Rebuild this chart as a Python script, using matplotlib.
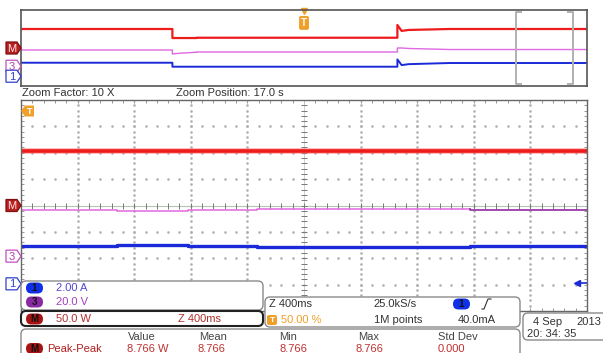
import numpy as np
import matplotlib.pyplot as plt
from matplotlib.patches import FancyBboxPatch, Polygon
from matplotlib.transforms import blended_transform_factory

plt.rcParams['font.family'] = ['Liberation Sans', 'DejaVu Sans']

# overview record: time (s, trigger at 0) and level (divisions)
ovw_t    = [-20, -9.3, -9.3, -8.8, -7.6, -7.6, 6.6, 6.6, 6.9, 7.4, 10.3, 20]
ovw_red  = [2.0, 2.0, 1.05, 1.05, 1.05, 1.08, 1.08, 2.42, 1.8, 1.9, 2.0, 2.0]
ovw_pink = [-0.21, -0.21, -0.63, -0.55, -0.45, -0.42, -0.42, 0.0, 0.0, -0.05, -0.16, -0.16]
ovw_blue = [-1.55, -1.55, -1.97, -1.97, -1.97, -1.97, -1.97, -1.2, -1.8, -1.7, -1.58, -1.58]

# zoomed window 15..19 s (400 ms/div)
zoom_t    = [15.0, 15.68, 15.68, 16.18, 16.18, 16.67, 16.67, 18.17, 18.17, 19.0]
zoom_red  = [2.07, 2.07, 2.07, 2.07, 2.07, 2.07, 2.07, 2.07, 2.07, 2.07]
zoom_pink = [-0.17, -0.17, -0.21, -0.21, -0.17, -0.17, -0.13, -0.13, -0.16, -0.16]
zoom_blue = [-1.54, -1.54, -1.50, -1.50, -1.54, -1.54, -1.58, -1.58, -1.54, -1.54]

zoom_start, zoom_end = 15.0, 19.0
math_gnd, ch3_gnd, ch1_gnd = 0.0, -1.92, -2.97
trig_level = -2.95

meas_headers = ['Value', 'Mean', 'Min', 'Max', 'Std Dev']
meas_values = ['8.766 W', '8.766', '8.766', '8.766', '0.000']

RED = '#ee1b1b'
PINK = '#e068e0'
PURPLE = '#9a3aa8'
BLUE = '#1a2ad8'
ORANGE = '#f0a028'
DKRED = '#a81414'

W, H = 603, 353
fig = plt.figure(figsize=(W / 100, H / 100), dpi=100)

# ---- overview panel
ax_top = fig.add_axes([21 / W, (H - 86) / H, 566 / W, 76 / H])
ax_top.set_xlim(-20, 20)
ax_top.set_ylim(-4, 4)
ax_top.set_xticks([])
ax_top.set_yticks([])
for s in ax_top.spines.values():
    s.set_color('#555555')
    s.set_linewidth(1.2)
ax_top.plot(ovw_t, ovw_red, color=RED, lw=1.6)
ax_top.plot(ovw_t, ovw_pink, color=PINK, lw=1.0)
ax_top.plot(ovw_t, ovw_blue, color=BLUE, lw=1.4)
# zoom window brackets
for xe, d in [(zoom_start, 0.35), (zoom_end, -0.35)]:
    ax_top.plot([xe + d, xe, xe, xe + d], [3.75, 3.75, -3.75, -3.75], color='#b0b0b0', lw=1.4)

# ---- zoomed panel
ax = fig.add_axes([21 / W, (H - 311) / H, 566 / W, 211 / H])
ax.set_xlim(zoom_start, zoom_end)
ax.set_ylim(-4, 4)
div = (zoom_end - zoom_start) / 10
ax.set_xticks(np.arange(zoom_start, zoom_end + 1e-9, div / 5))
ax.set_yticks(np.arange(-4, 4.001, 0.2))
ax.tick_params(direction='in', length=2.5, width=0.6, color='#888888',
               top=True, right=True, labelbottom=False, labelleft=False)
for s in ax.spines.values():
    s.set_color('#666666')
    s.set_linewidth(1.0)

xmaj = zoom_start + div * np.arange(1, 10)
ymaj = np.arange(-3, 4)
yminor = np.arange(-4, 4.001, 0.2)
xminor = np.arange(zoom_start, zoom_end + 1e-9, div / 5)
for xv in xmaj:
    if abs(xv - (zoom_start + 5 * div)) > 1e-6:
        ax.plot(np.full_like(yminor, xv), yminor, ls='none', marker='s', ms=0.8, color='#b0b0b0')
for yv in ymaj:
    if yv != 0:
        ax.plot(xminor, np.full_like(xminor, yv), ls='none', marker='s', ms=0.8, color='#b0b0b0')
xc = zoom_start + 5 * div
ax.axhline(0, color='#b4c4b4', lw=0.8)
ax.axvline(xc, color='#c8c8c8', lw=0.6)
ax.plot(xminor, np.zeros_like(xminor), ls='none', marker='|', ms=4, mew=0.7, color='#777777')
ax.plot(np.full_like(yminor, xc), yminor, ls='none', marker='_', ms=4, mew=0.7, color='#777777')

ax.plot(zoom_t, zoom_red, color='#ff7070', lw=4.0, alpha=0.6)
ax.plot(zoom_t, zoom_red, color=RED, lw=2.6)
ax.plot(zoom_t[:8], zoom_pink[:8], color=PINK, lw=1.1)
ax.plot(zoom_t[7:], zoom_pink[7:], color=PURPLE, lw=1.3)
ax.plot(zoom_t, zoom_blue, color=BLUE, lw=2.4)

# trigger level marker at right
tr = blended_transform_factory(ax.transAxes, ax.transData)
ax.plot([0.982, 1.0], [trig_level, trig_level], color=BLUE, lw=1.2, transform=tr, clip_on=False)
ax.plot([0.982], [trig_level], marker='<', ms=5, color=BLUE, transform=tr, clip_on=False)

# trigger position marker in overview
tt = blended_transform_factory(ax_top.transData, ax_top.transAxes)
ax_top.plot([0], [0.99], marker='v', ms=5, color=ORANGE, transform=tt, clip_on=False)
ax_top.text(0, 0.83, 'T', transform=tt, ha='center', va='center', fontsize=7, color='white',
            fontweight='bold', bbox=dict(boxstyle='round,pad=0.2', fc=ORANGE, ec='none'))

# ---- overlay (pixel coordinates)
ov = fig.add_axes([0, 0, 1, 1])
ov.set_xlim(0, W)
ov.set_ylim(H, 0)
ov.axis('off')


def tag(axis, level, label, fc, ec, tc):
    # ground-level tag at left edge, placed at the channel's level
    yp = H - axis.transData.transform((0, level))[1]
    ov.add_patch(Polygon([(6, yp - 6), (17, yp - 6), (21, yp), (17, yp + 6), (6, yp + 6)],
                         closed=True, fc=fc, ec=ec, lw=0.9))
    ov.text(12, yp + 0.5, label, fontsize=8, color=tc, ha='center', va='center')


for axis in (ax_top, ax):
    tag(axis, math_gnd, 'M', '#b82020', '#801010', '#ffe8e8')
    tag(axis, ch3_gnd, '3', '#ffffff', '#c050c0', '#b040b0')
    tag(axis, ch1_gnd, '1', '#ffffff', '#3040d0', '#3040d0')

ov.text(22, 93, 'Zoom Factor: 10 X', fontsize=8, color='#333333', va='center')
ov.text(176, 93, 'Zoom Position: 17.0 s', fontsize=8, color='#333333', va='center')

# trigger marker left in zoomed view
ov.add_patch(Polygon([(21, 111), (25, 105.5), (34, 105.5), (34, 116.5), (25, 116.5)],
                     closed=True, fc=ORANGE, ec='none'))
ov.text(29.5, 111, 'T', fontsize=6.5, color='white', fontweight='bold', ha='center', va='center')


def box(x0, y0, x1, y1, ec='#8a8a8a', lw=1.0, r=5):
    ov.add_patch(FancyBboxPatch((x0, y0), x1 - x0, y1 - y0,
                                boxstyle='round,pad=0,rounding_size=%g' % r,
                                fc='white', ec=ec, lw=lw, clip_on=False))


def badge(x, y, label, fc):
    ov.add_patch(FancyBboxPatch((x, y - 5.5), 17, 11, boxstyle='round,pad=0,rounding_size=5.5',
                                fc=fc, ec='none'))
    ov.text(x + 8.5, y, label, fontsize=7, color='#111111', ha='center', va='center', fontweight='bold')


box(21, 281, 263, 310)
box(21, 311, 263, 326, ec='#222222', lw=1.5)
box(265, 297, 520, 327)
box(523, 313, 612, 340)
box(21, 329, 520, 370)

badge(26, 288, '1', '#1030e8')
ov.text(56, 288, '2.00 A', fontsize=8, color='#5048d0', va='center')
badge(26, 302, '3', '#8a2aa2')
ov.text(56, 302, '20.0 V', fontsize=8, color='#a040c0', va='center')
badge(26, 319, 'M', DKRED)
ov.text(56, 319, '50.0 W', fontsize=8, color='#b03030', va='center')
ov.text(178, 319, 'Z 400ms', fontsize=8, color='#b03030', va='center')

ov.text(269, 304, 'Z 400ms', fontsize=8, color='#333333', va='center')
ov.text(373, 304, '25.0kS/s', fontsize=8, color='#333333', va='center')
badge(453, 304, '1', '#1030e8')
ov.plot([482, 484, 488, 491], [309, 309, 299, 299], color='#333333', lw=0.8)
ov.add_patch(FancyBboxPatch((267, 315), 10, 10, boxstyle='round,pad=0,rounding_size=2',
                            fc=ORANGE, ec='none'))
ov.text(272, 320, 'T', fontsize=6, color='white', fontweight='bold', ha='center', va='center')
ov.text(281, 320, '50.00 %', fontsize=8, color=ORANGE, va='center')
ov.text(374, 320, '1M points', fontsize=8, color='#333333', va='center')
ov.text(458, 320, '40.0mA', fontsize=8, color='#333333', va='center')

ov.text(533, 322, '4 Sep', fontsize=8, color='#333333', va='center')
ov.text(601, 322, '2013', fontsize=8, color='#333333', va='center', ha='right')
ov.text(527, 334, '20: 34: 35', fontsize=8, color='#333333', va='center')

hx = [128, 199, 279, 358, 438]
vx = [127, 198, 279, 356, 438]
for x, s in zip(hx, meas_headers):
    ov.text(x, 337, s, fontsize=8, color='#444444', va='center')
for x, s in zip(vx, meas_values):
    ov.text(x, 348.5, s, fontsize=8, color='#c03030', va='center')
badge(26, 348.5, 'M', DKRED)
ov.text(47, 348.5, 'Peak-Peak', fontsize=8, color='#b02020', va='center')

fig.savefig('out.png', dpi=100)
